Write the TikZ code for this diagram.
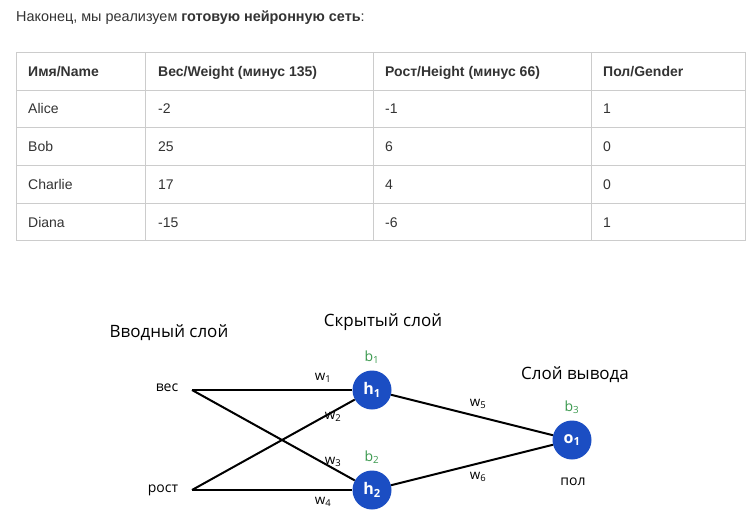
\documentclass[tikz,border=0pt]{standalone}
\usepackage{fontspec}
\setmainfont{Liberation Sans}
\newfontfamily\netfont{Open Sans}
\definecolor{txtgray}{HTML}{333333}
\definecolor{gridgray}{HTML}{CCCCCC}
\definecolor{neuronblue}{HTML}{1B4EC3}
\definecolor{biasgreen}{HTML}{3C9A50}
\begin{document}
\begin{tikzpicture}[x=1pt,y=-1pt,
    cell/.style={anchor=base west,inner sep=0pt,text=txtgray,font=\fontsize{14}{16}\selectfont},
    headcell/.style={cell,font=\fontsize{14}{16}\selectfont\bfseries},
    neuron/.style={circle,fill=neuronblue,minimum size=39pt,inner sep=0pt,text=white,font=\netfont\fontsize{16}{18}\selectfont\bfseries},
    layer/.style={inner sep=0pt,font=\netfont\fontsize{17}{20}\selectfont},
    feat/.style={inner sep=0pt,font=\netfont\fontsize{14}{16}\selectfont},
    weight/.style={inner sep=0pt,font=\netfont\fontsize{13.5}{15}\selectfont},
    bias/.style={inner sep=0pt,text=biasgreen,font=\netfont\fontsize{14}{16}\selectfont},
    link/.style={line width=2pt}]
    \useasboundingbox[fill=white] (0,0) rectangle (752,524);

    % intro line
    \node[cell,font=\fontsize{14.4}{16}\selectfont] (intro) at (16,22) {Наконец, мы реализуем \textbf{готовую нейронную сеть}:};

    % table grid
    \draw[gridgray,line width=1pt] (16,53) rectangle (745,240);
    \draw[gridgray,line width=1pt] (16,90.5) -- (745,90.5);
    \draw[gridgray,line width=1pt] (16,128) -- (745,128);
    \draw[gridgray,line width=1pt] (16,165.5) -- (745,165.5);
    \draw[gridgray,line width=1pt] (16,203) -- (745,203);
    \draw[gridgray,line width=1pt] (145,53) -- (145,240);
    \draw[gridgray,line width=1pt] (373,53) -- (373,240);
    \draw[gridgray,line width=1pt] (591,53) -- (591,240);

    % table text
    \node[headcell] (hName)   at ( 28,77) {Имя/Name};
    \node[headcell] (hWeight) at (158,77) {Вес/Weight (минус 135)};
    \node[headcell] (hHeight) at (385,77) {Рост/Height (минус 66)};
    \node[headcell] (hGender) at (603,77) {Пол/Gender};

    \node[cell] (aName)   at ( 28,114) {Alice};
    \node[cell] (aWeight) at (158,114) {-2};
    \node[cell] (aHeight) at (385,114) {-1};
    \node[cell] (aGender) at (603,114) {1};

    \node[cell] (bName)   at ( 28,152) {Bob};
    \node[cell] (bWeight) at (158,152) {25};
    \node[cell] (bHeight) at (385,152) {6};
    \node[cell] (bGender) at (603,152) {0};

    \node[cell] (cName)   at ( 28,189) {Charlie};
    \node[cell] (cWeight) at (158,189) {17};
    \node[cell] (cHeight) at (385,189) {4};
    \node[cell] (cGender) at (603,189) {0};

    \node[cell] (dName)   at ( 28,227) {Diana};
    \node[cell] (dWeight) at (158,227) {-15};
    \node[cell] (dHeight) at (385,227) {-6};
    \node[cell] (dGender) at (603,227) {1};

    % network
    \node[layer] (inLayer)  at (169,333) {Вводный слой};
    \node[layer] (hidLayer) at (383,322) {Скрытый слой};
    \node[layer] (outLayer) at (575,375) {Слой вывода};

    \node[feat] (ves)  at (167,388) {вес};
    \node[feat] (rost) at (163,490) {рост};
    \coordinate (vesEnd)  at (192,390);
    \coordinate (rostEnd) at (192,490);

    \node[neuron] (h1) at (372,390) {h\textsubscript{1}};
    \node[neuron] (h2) at (372,490) {h\textsubscript{2}};
    \node[neuron] (o1) at (572,440) {o\textsubscript{1}};

    \draw[link] (vesEnd) -- (h1);
    \draw[link] (vesEnd) -- (h2);
    \draw[link] (rostEnd) -- (h1);
    \draw[link] (rostEnd) -- (h2);
    \draw[link] (h1) -- (o1);
    \draw[link] (h2) -- (o1);

    \node[weight] (w1) at (323,378) {w\textsubscript{1}};
    \node[weight] (w2) at (333,417) {w\textsubscript{2}};
    \node[weight] (w3) at (333,462) {w\textsubscript{3}};
    \node[weight] (w4) at (323,502) {w\textsubscript{4}};
    \node[weight] (w5) at (478,404) {w\textsubscript{5}};
    \node[weight] (w6) at (478,477) {w\textsubscript{6}};

    \node[bias] (b1) at (372,357) {b\textsubscript{1}};
    \node[bias] (b2) at (372,457) {b\textsubscript{2}};
    \node[bias] (b3) at (572,407) {b\textsubscript{3}};

    \node[feat] (pol) at (573,482) {пол};
\end{tikzpicture}
\end{document}
